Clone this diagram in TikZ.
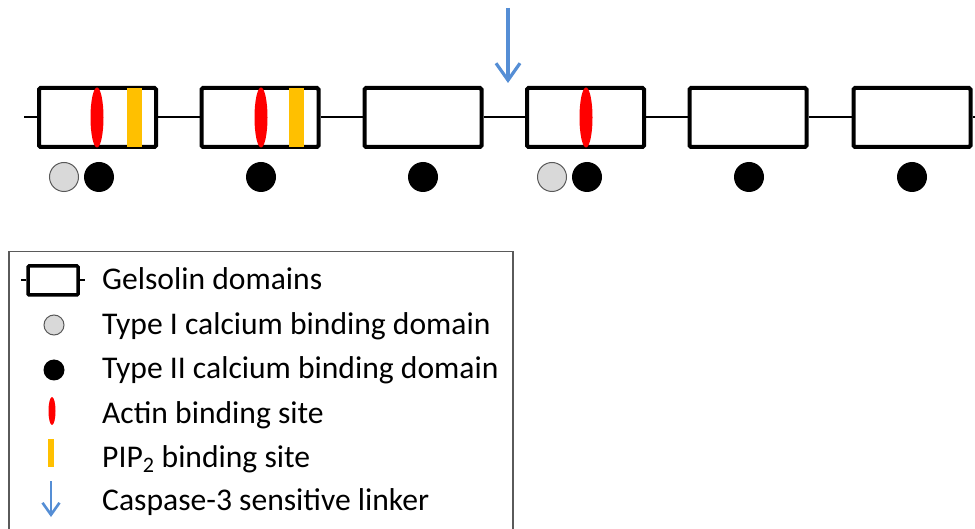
\documentclass[tikz,border=0pt]{standalone}
\usepackage{fontspec}
\setmainfont{Carlito}
\usetikzlibrary{arrows.meta,shapes.geometric}

\definecolor{actinred}{RGB}{255,0,0}
\definecolor{pipgold}{RGB}{255,192,0}
\definecolor{caspblue}{RGB}{85,142,213}
\definecolor{typeone}{RGB}{217,217,217}
\definecolor{rimgrey}{RGB}{89,89,89}
\definecolor{framegrey}{RGB}{90,90,90}

\tikzset{
  domainbox/.style={draw, line width=4pt, rounded corners=1.5pt, fill=white,
    minimum width=117pt, minimum height=59pt, inner sep=0pt},
  linker/.style={line width=2pt},
  actin/.style={ellipse, fill=actinred, minimum width=13pt, minimum height=60pt, inner sep=0pt},
  pip/.style={rectangle, fill=pipgold, minimum width=15pt, minimum height=59pt, inner sep=0pt},
  caone/.style={circle, fill=typeone, draw=rimgrey, line width=1pt, minimum size=29pt, inner sep=0pt},
  catwo/.style={circle, fill=black, minimum size=30pt, inner sep=0pt},
  cleave/.style={draw=caspblue, line width=3.2pt, -{Straight Barb[length=17pt,width=24pt]}},
  legtext/.style={anchor=base west, font=\fontsize{31.6}{38}\selectfont, inner sep=0pt},
}

\begin{document}
\begin{tikzpicture}[x=1pt, y=-1pt]
  \useasboundingbox (0,0) rectangle (975,529);
  \clip (0,0) rectangle (975,529);

  % gelsolin domains G1-G6
  \foreach \i/\x in {1/97.5, 2/260, 3/423, 4/585.5, 5/748, 6/912}
    \node[domainbox] (d\i) at (\x,117.5) {};

  % linkers between domains
  \coordinate (nterm) at (24,117.5);
  \coordinate (cterm) at (980,117.5);
  \draw[linker] (nterm) -- (d1.west);
  \draw[linker] (d1.east) -- (d2.west);
  \draw[linker] (d2.east) -- (d3.west);
  \draw[linker] (d3.east) -- (d4.west);
  \draw[linker] (d4.east) -- (d5.west);
  \draw[linker] (d5.east) -- (d6.west);
  \draw[linker] (d6.east) -- (cterm);

  % actin and PIP2 binding sites
  \node[actin] (a1) at (97,117.5) {};
  \node[actin] (a2) at (261,117.5) {};
  \node[actin] (a4) at (586,117.5) {};
  \node[pip] (p1) at (134.5,117.5) {};
  \node[pip] (p2) at (296.5,117.5) {};

  % calcium binding sites
  \node[caone] (c1a) at (64,177) {};
  \node[catwo] (c1b) at (99,177) {};
  \node[catwo] (c2) at (261,177) {};
  \node[catwo] (c3) at (423,177) {};
  \node[caone] (c4a) at (552,177) {};
  \node[catwo] (c4b) at (587,177) {};
  \node[catwo] (c5) at (749,177) {};
  \node[catwo] (c6) at (912,177) {};

  % caspase-3 cleavage site
  \coordinate (cuttop) at (508,8);
  \coordinate (cutend) at (508,83);
  \draw[cleave] (cuttop) -- (cutend);

  % legend
  \node[draw=framegrey, line width=1.5pt, minimum width=504pt, minimum height=300pt,
        inner sep=0pt, anchor=north west] (legend) at (8,251) {};

  \node[draw, line width=3.5pt, rounded corners=1pt, minimum width=50pt, minimum height=29pt,
        inner sep=0pt] (lgdom) at (53,280.5) {};
  \coordinate (lgl) at (21,280.5);
  \coordinate (lgr) at (85,280.5);
  \draw[line width=2pt] (lgl) -- (lgdom.west);
  \draw[line width=2pt] (lgdom.east) -- (lgr);
  \node[legtext] (t1) at (102,290) {Gelsolin domains};

  \node[caone, minimum size=20pt] (lg2) at (54,325) {};
  \node[legtext] (t2) at (102,335) {Type I calcium binding domain};

  \node[catwo, minimum size=21pt] (lg3) at (54,370) {};
  \node[legtext] (t3) at (102,379) {Type II calcium binding domain};

  \node[actin, minimum width=7pt, minimum height=28pt] (lg4) at (52,411) {};
  \node[legtext] (t4) at (102,423) {Actin binding site};

  \node[pip, minimum width=6pt, minimum height=28pt] (lg5) at (51,453) {};
  \node[legtext] (t5) at (102,467) {PIP\textsubscript{2} binding site};

  \coordinate (lg6top) at (51,481);
  \coordinate (lg6end) at (51,517);
  \draw[cleave, line width=2.6pt, -{Straight Barb[length=12pt,width=17pt]}] (lg6top) -- (lg6end);
  \node[legtext] (t6) at (102,510) {Caspase-3 sensitive linker};
\end{tikzpicture}
\end{document}
